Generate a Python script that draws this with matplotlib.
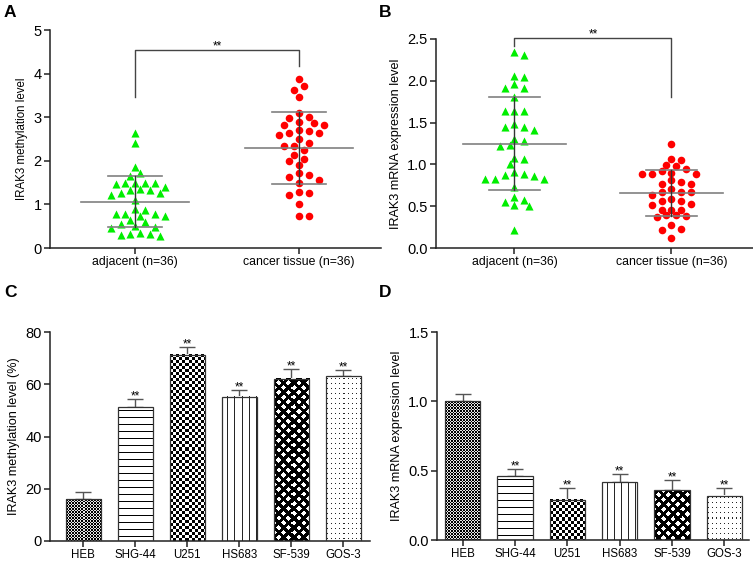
import numpy as np
import matplotlib.pyplot as plt
from matplotlib.ticker import FormatStrFormatter

plt.rcParams['font.family'] = ['Liberation Sans', 'DejaVu Sans']

W, H = 753, 561

# panel A / B: individual samples
groups = ['adjacent (n=36)', 'cancer tissue (n=36)']
adj_meth = [2.63, 2.40, 1.86, 1.72, 1.64, 1.50, 1.48, 1.46, 1.48, 1.48,
            1.32, 1.26, 1.22, 1.35, 1.40, 1.26, 1.32, 1.11, 0.90, 0.74,
            0.79, 0.79, 0.79, 0.87, 0.73, 0.64, 0.54, 0.51, 0.60, 0.48,
            0.45, 0.35, 0.31, 0.28, 0.30, 0.33]
can_meth = [3.87, 3.71, 3.62, 3.47, 3.09, 2.99, 3.01, 2.83, 2.86, 2.90,
            2.83, 2.70, 2.59, 2.64, 2.64, 2.69, 2.50, 2.41, 2.35, 2.34,
            2.24, 2.14, 2.04, 1.99, 1.91, 1.72, 1.63, 1.68, 1.57, 1.49,
            1.29, 1.26, 1.21, 1.02, 0.73, 0.74]
adj_mrna = [2.31, 2.34, 2.04, 2.06, 1.96, 1.91, 1.91, 1.81, 1.64, 1.64,
            1.64, 1.45, 1.41, 1.45, 1.48, 1.30, 1.23, 1.22, 1.28, 1.08,
            1.07, 1.01, 0.91, 0.83, 0.87, 0.83, 0.86, 0.83, 0.88, 0.73,
            0.57, 0.51, 0.50, 0.55, 0.61, 0.22]
can_mrna = [1.24, 1.06, 1.05, 0.99, 0.98, 0.94, 0.90, 0.92, 0.88, 0.88,
            0.88, 0.81, 0.79, 0.76, 0.76, 0.70, 0.67, 0.67, 0.67, 0.63,
            0.56, 0.59, 0.56, 0.53, 0.52, 0.46, 0.46, 0.46, 0.39, 0.37,
            0.38, 0.39, 0.23, 0.27, 0.21, 0.12]
# significance bracket: left leg end, right leg end, top
bracket_a = [3.47, 4.18, 4.54]
bracket_b = [2.42, 1.81, 2.515]

# panel C / D: cell lines
cells = ['HEB', 'SHG-44', 'U251', 'HS683', 'SF-539', 'GOS-3']
meth_pct = [16.0, 51.2, 71.2, 55.2, 62.2, 63.1]
meth_err = [2.9, 3.1, 2.9, 2.7, 3.5, 2.3]
mrna_rel = [1.00, 0.46, 0.29, 0.415, 0.36, 0.32]
mrna_err = [0.054, 0.055, 0.084, 0.06, 0.074, 0.052]
stars = ['', '**', '**', '**', '**', '**']
patterns = ['fine', 'hlines', 'check', 'vlines', 'diamonds', 'dots']

fig = plt.figure(figsize=(W / 100, H / 100), dpi=100)


def axes_px(l, t, r, b):
    ax = fig.add_axes([l / W, 1 - b / H, (r - l) / W, (b - t) / H])
    for s in ['top', 'right']:
        ax.spines[s].set_visible(False)
    for s in ['left', 'bottom']:
        ax.spines[s].set_linewidth(1.1)
        ax.spines[s].set_color('#222222')
    ax.tick_params(length=4, width=1.1, color='#222222', pad=2)
    return ax


def swarm_x(ax, xc, vals, step=4.9, dmin=7.4):
    # simple beeswarm in pixel space
    tr = ax.transData
    vals = np.asarray(vals)
    pts = tr.transform(np.column_stack([np.full(len(vals), xc), vals]))
    cx = pts[0, 0]
    offs = [0.0]
    for k in range(1, 30):
        offs += [k * step, -k * step]
    placed = []
    out = np.empty(len(vals))
    for i in np.argsort(-vals, kind='stable'):
        py = pts[i, 1]
        for off in offs:
            px = cx + off
            if all((px - qx) ** 2 + (py - qy) ** 2 >= dmin ** 2 for qx, qy in placed):
                break
        placed.append((px, py))
        out[i] = tr.inverted().transform((px, py))[0]
    return out


def dot_panel(ax, data, ylim, bracket, yfmt, ylabel, lsize):
    ax.set_ylim(*ylim)
    specs = [('^', '#00ee00'), ('o', '#ff0000')]
    for i, (vals, (mk, col)) in enumerate(zip(data, specs)):
        xs = swarm_x(ax, i, vals)
        ax.scatter(xs, vals, marker=mk, s=34 if mk == '^' else 30, color=col,
                   linewidths=0, zorder=2)
        m = np.mean(vals)
        sd = np.std(vals, ddof=1)
        ax.plot([i - 0.33, i + 0.33], [m, m], color='#808080', lw=1.2, zorder=3)
        for y in (m - sd, m + sd):
            ax.plot([i - 0.165, i + 0.165], [y, y], color='#808080', lw=1.2, zorder=3)
        ax.plot([i, i], [m - sd, m + sd], color='#333333', lw=1, zorder=3)
    ax.plot([0, 0, 1, 1], [bracket[0], bracket[2], bracket[2], bracket[1]],
            color='#444444', lw=1, clip_on=False)
    ax.annotate('**', (0.5, bracket[2]), xytext=(0, -2), textcoords='offset points',
                ha='center', va='bottom', fontsize=8.5, annotation_clip=False)
    ax.set_xticks([0, 1])
    ax.set_xticklabels(groups, fontsize=8.8)
    ax.yaxis.set_major_formatter(FormatStrFormatter(yfmt))
    ax.tick_params(axis='y', labelsize=10.5)
    ax.set_ylabel(ylabel, fontsize=lsize, labelpad=4)


def pattern(kind, w, h):
    yy, xx = np.mgrid[0:h, 0:w].astype(float)
    img = np.ones_like(xx)
    if kind == 'fine':
        img = ((xx // 1.5 + yy // 1.5) % 2) * 0.9
    elif kind == 'check':
        img = ((xx // 3 + yy // 3) % 2).astype(float)
    elif kind == 'hlines':
        img[(yy % 7) == 3] = 0
    elif kind == 'vlines':
        img[((xx + 2) % 7) == 0] = 0.15
    elif kind == 'diamonds':
        p = 9.6
        d1 = np.abs((xx + 0.5) % p - p / 2) + np.abs((yy + 0.5) % p - p / 2)
        d2 = np.abs((xx + 0.5 + p / 2) % p - p / 2) + np.abs((yy + 0.5 + p / 2) % p - p / 2)
        img = np.where(np.minimum(d1, d2) < 2.6, 1.0, 0.0)
    elif kind == 'dots':
        img[((xx % 4) == 1) & ((yy % 5) == 2)] = 0.15
    return img


def bar_panel(ax, vals, errs, ylim, yticks, yfmt, ylabel, xlim):
    ax.set_ylim(*ylim)
    ax.set_xlim(*xlim)
    x = np.arange(len(cells))
    bars = ax.bar(x, vals, width=0.68, facecolor='none', edgecolor='#333333',
                  linewidth=0.9, zorder=3)
    for b, kind in zip(bars, patterns):
        x0, y0 = b.get_x(), b.get_y()
        x1, y1 = x0 + b.get_width(), y0 + b.get_height()
        p0 = ax.transData.transform((x0, y0))
        p1 = ax.transData.transform((x1, y1))
        wpx = max(int(round(p1[0] - p0[0])), 1)
        hpx = max(int(round(p1[1] - p0[1])), 1)
        ax.imshow(pattern(kind, wpx, hpx), extent=(x0, x1, y0, y1), cmap='gray',
                  vmin=0, vmax=1, aspect='auto', interpolation='nearest',
                  origin='upper', zorder=2)
    ax.errorbar(x, vals, yerr=[np.zeros(len(vals)), errs], fmt='none',
                ecolor='#555555', elinewidth=1, capsize=6, capthick=1, zorder=1)
    for xi, v, e, st in zip(x, vals, errs, stars):
        if st:
            ax.annotate(st, (xi, v + e), xytext=(0, -2.5), textcoords='offset points',
                        ha='center', va='bottom', fontsize=8.5)
    ax.set_xlim(*xlim)
    ax.set_ylim(*ylim)
    ax.set_xticks(x)
    ax.set_xticklabels(cells, fontsize=8.3)
    ax.set_yticks(yticks)
    ax.yaxis.set_major_formatter(FormatStrFormatter(yfmt))
    ax.tick_params(axis='y', labelsize=10.5)
    ax.set_ylabel(ylabel, fontsize=9.1, labelpad=4)


ax_a = axes_px(50, 30, 381, 248)
ax_a.set_xlim(-0.52, 1.5)
ax_a.set_yticks([0, 1, 2, 3, 4, 5])
dot_panel(ax_a, [adj_meth, can_meth], (0, 5), bracket_a, '%d',
          'IRAK3 methylation level', 8.3)

ax_b = axes_px(436, 39, 753, 248)
ax_b.set_xlim(-0.5, 1.52)
ax_b.set_yticks([0, 0.5, 1.0, 1.5, 2.0, 2.5])
dot_panel(ax_b, [adj_mrna, can_mrna], (0, 2.5), bracket_b, '%.1f',
          'IRAK3 mRNA expression level', 9.1)

ax_c = axes_px(50, 332, 370, 541)
bar_panel(ax_c, meth_pct, meth_err, (0, 80), [0, 20, 40, 60, 80], '%d',
          'IRAK3 methylation level (%)', (-0.64, 5.51))

ax_d = axes_px(437, 332, 749, 540)
bar_panel(ax_d, mrna_rel, mrna_err, (0, 1.5), [0, 0.5, 1.0, 1.5], '%.1f',
          'IRAK3 mRNA expression level', (-0.49, 5.47))

for lab, (px, py) in zip('ABCD', [(4, 5), (379, 5), (4, 285), (379, 285)]):
    fig.text(px / W, 1 - py / H, lab, fontsize=12.5, fontweight='bold',
             ha='left', va='top')

fig.savefig('out.png', dpi=100)
